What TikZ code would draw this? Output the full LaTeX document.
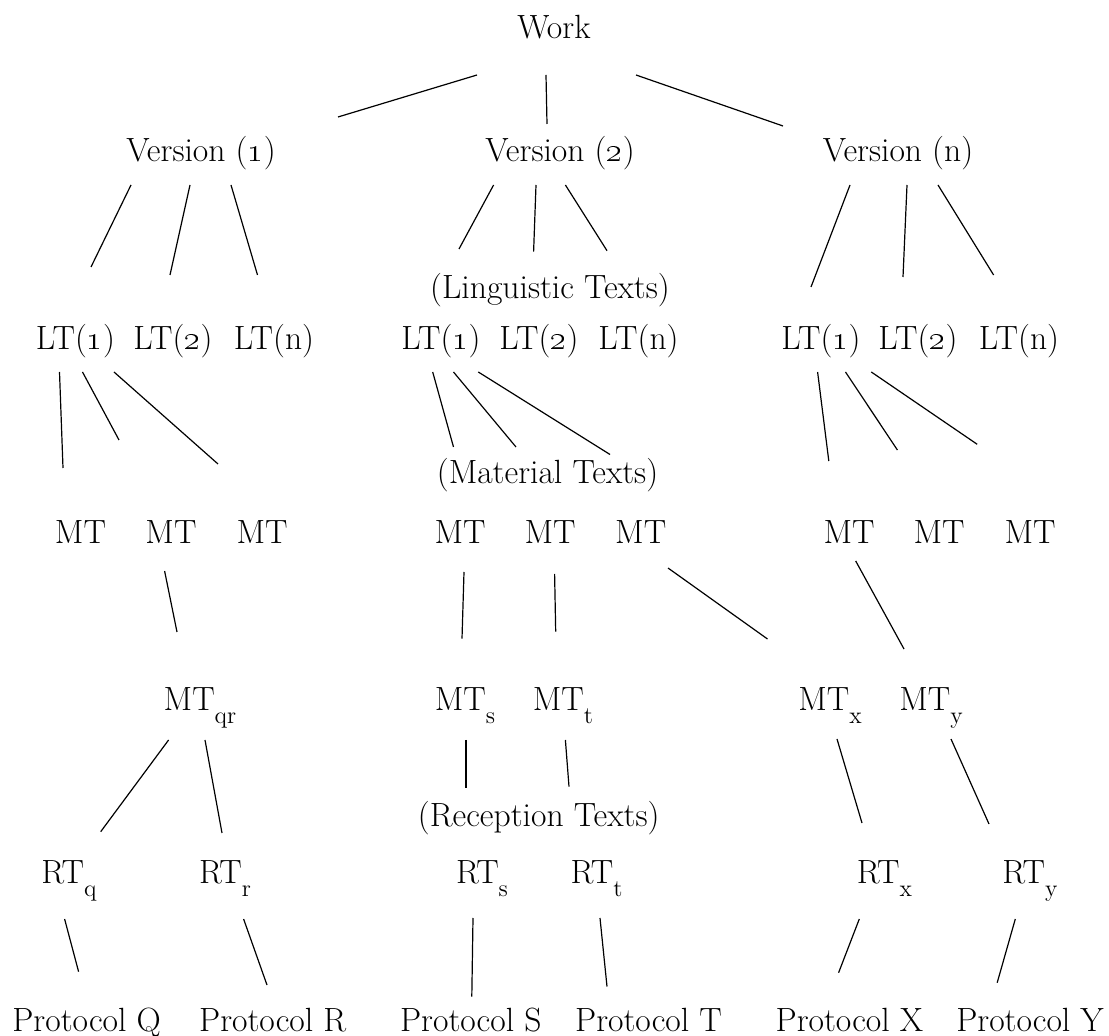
\documentclass[tikz,border=0pt]{standalone}
\newcommand{\osn}[1]{\oldstylenums{#1}}
\newcommand{\lowsub}[1]{\raisebox{-6.5pt}{\fontsize{12}{14}\selectfont #1}}
\begin{document}
\begin{tikzpicture}[x=0.5pt, y=-0.5pt,
  lbl/.style={anchor=base, inner sep=0pt, font=\fontsize{16.8}{20}\selectfont},
  link/.style={line width=0.6pt}]
\useasboundingbox (0,0) rectangle (1109,1036);
% top levels
\node[lbl] (work) at (554,39) {Work};
\node[lbl] (v1) at (201,162) {Version (\osn{1})};
\node[lbl] (v2) at (560,162) {Version (\osn{2})};
\node[lbl] (vn) at (898,162) {Version (n)};
\node[lbl] (ling) at (550,299) {(Linguistic Texts)};
% linguistic texts
\node[lbl] (lta1) at (75.5,350) {LT(\osn{1})};
\node[lbl] (lta2) at (173,350) {LT(\osn{2})};
\node[lbl] (ltan) at (274,350) {LT(n)};
\node[lbl] (ltb1) at (441,350) {LT(\osn{1})};
\node[lbl] (ltb2) at (539,350) {LT(\osn{2})};
\node[lbl] (ltbn) at (638.5,350) {LT(n)};
\node[lbl] (ltc1) at (821,350) {LT(\osn{1})};
\node[lbl] (ltc2) at (918,350) {LT(\osn{2})};
\node[lbl] (ltcn) at (1019,350) {LT(n)};
\node[lbl] (mat) at (547.5,484) {(Material Texts)};
% material texts
\node[lbl] (mta1) at (80.5,544) {MT};
\node[lbl] (mta2) at (171,544) {MT};
\node[lbl] (mta3) at (262,544) {MT};
\node[lbl] (mtb1) at (460,544) {MT};
\node[lbl] (mtb2) at (550,544) {MT};
\node[lbl] (mtb3) at (640.7,544) {MT};
\node[lbl] (mtc1) at (849,544) {MT};
\node[lbl] (mtc2) at (939,544) {MT};
\node[lbl] (mtc3) at (1030,544) {MT};
\node[lbl] (mtqr) at (200,711) {MT\lowsub{qr}};
\node[lbl] (mts) at (465,711) {MT\lowsub{s}};
\node[lbl] (mtt) at (563,711) {MT\lowsub{t}};
\node[lbl] (mtx) at (830,711) {MT\lowsub{x}};
\node[lbl] (mty) at (931,711) {MT\lowsub{y}};
\node[lbl] (rec) at (538.7,827) {(Reception Texts)};
% reception texts
\node[lbl] (rtq) at (69,884) {RT\lowsub{q}};
\node[lbl] (rtr) at (225,884) {RT\lowsub{r}};
\node[lbl] (rts) at (482,884) {RT\lowsub{s}};
\node[lbl] (rtt) at (596.5,884) {RT\lowsub{t}};
\node[lbl] (rtx) at (884.5,884) {RT\lowsub{x}};
\node[lbl] (rty) at (1030,884) {RT\lowsub{y}};
% protocols
\node[lbl] (pq) at (86.6,1031) {Protocol Q};
\node[lbl] (pr) at (272.7,1031) {Protocol R};
\node[lbl] (ps) at (470.8,1031) {Protocol S};
\node[lbl] (pt) at (648.5,1031) {Protocol T};
\node[lbl] (px) at (849.4,1031) {Protocol X};
\node[lbl] (py) at (1030,1031) {Protocol Y};
% links: parent/offset/child/offset
\foreach \p/\px/\py/\c/\cx/\cy in {
  work/-77/36/v1/137/-45, work/-8/36/v2/-13/-38, work/82/36/vn/-115/-36,
  v1/-70/23/lta1/15.5/-83, v1/-11/23/lta2/-3/-75, v1/30/23/ltan/-16.5/-75,
  v2/-66.4/23/ltb1/18/-101, v2/-24/23/ltb2/-5.4/-98.3, v2/5.4/23/ltbn/-31.5/-99.3,
  vn/-48/23/ltc1/-10/-63, vn/9/23/ltc2/-15/-73, vn/40/23/ltcn/-25.4/-75,
  lta1/-16/22/mta1/-17.5/-76, lta1/7/22/mta2/-52/-104, lta1/38.5/22/mta3/-44/-80,
  ltb1/-8.3/22/mtb1/-6.5/-97, ltb1/12.5/22/mtb2/-34/-97, ltb1/37.3/22/mtb3/-30.7/-89.5,
  ltc1/-3.4/22/mtc1/-20.2/-83, ltc1/24.5/22/mtc2/-41.6/-94, ltc1/50.3/22/mtc3/-52.8/-99.7,
  mta2/-6.4/27/mtqr/-23/-79, mtb1/4/28/mts/-3/-72.3, mtb2/4.6/30/mtt/-7.3/-79.3,
  mtb3/27.3/24/mtx/-62.5/-72, mtc1/6.7/17/mty/-27/-62,
  mtqr/-31.4/29/rtq/31.7/-52.3, mtqr/5/29/rtr/-3/-51, mts/1/29/rts/-16/-96,
  mtt/2.4/29/rtt/-27.5/-97.3, mtx/7/28/rtx/-22.5/-61, mty/20/28/rty/-41/-60,
  rtq/-4.4/35/pq/-8/-59.3, rtr/18.6/35/pr/-5.7/-46, rts/-9/34/ps/1/-34.3,
  rtt/3.5/34/pt/-41.5/-44.5, rtx/-25.2/35/px/-10.8/-58.3, rty/-14.7/35/py/-32.8/-48.3}
  \draw[link] ([shift={(\px,\py)}]\p.base) -- ([shift={(\cx,\cy)}]\c.base);
\end{tikzpicture}
\end{document}
